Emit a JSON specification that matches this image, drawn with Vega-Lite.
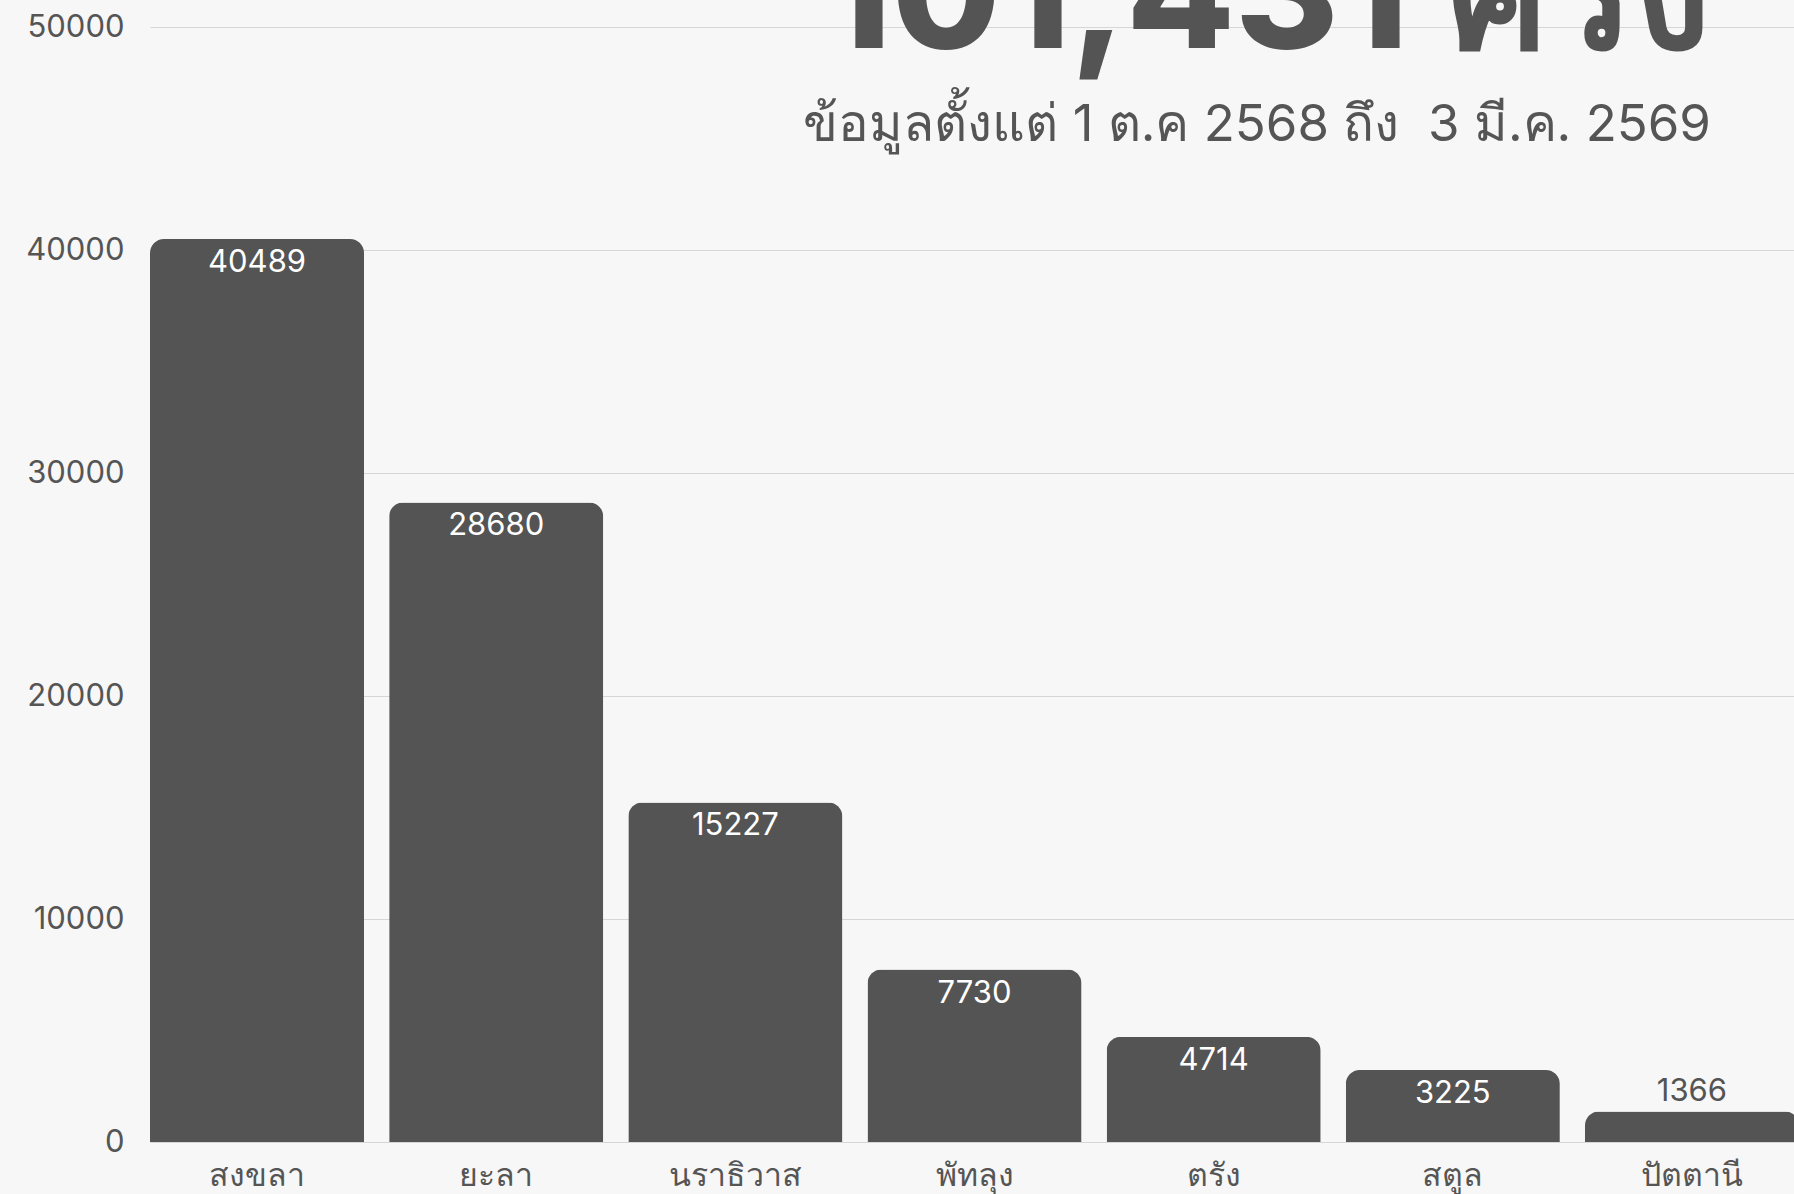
{
  "$schema": "https://vega.github.io/schema/vega-lite/v6.json",
  "autosize": {"type": "none"},
  "width": 1644,
  "height": 1115,
  "padding": {"left": 150, "top": 27, "right": 0, "bottom": 52},
  "background": "#f7f7f7",
  "title": {
    "text": "101,431 ครั้ง",
    "subtitle": "ข้อมูลตั้งแต่ 1 ต.ค 2568 ถึง\u00a0 3 มี.ค. 2569",
    "anchor": "end",
    "frame": "group",
    "orient": "top",
    "offset": 0,
    "dx": -83,
    "dy": 141,
    "font": "Inter",
    "fontSize": 158,
    "fontWeight": 800,
    "color": "#545454",
    "subtitleFont": "Inter",
    "subtitleFontSize": 51,
    "subtitleColor": "#555555",
    "subtitlePadding": 20
  },
  "config": {"view": {"stroke": null}},
  "data": {
    "values": [
      {"province": "สงขลา", "count": 40489},
      {"province": "ยะลา", "count": 28680},
      {"province": "นราธิวาส", "count": 15227},
      {"province": "พัทลุง", "count": 7730},
      {"province": "ตรัง", "count": 4714},
      {"province": "สตูล", "count": 3225},
      {"province": "ปัตตานี", "count": 1366}
    ]
  },
  "encoding": {
    "x": {
      "field": "province",
      "type": "nominal",
      "sort": null,
      "scale": {"range": [0, 1649], "paddingInner": 0.105, "paddingOuter": 0},
      "axis": {
        "title": null,
        "labelAngle": 0,
        "labelFontSize": 32,
        "labelColor": "#555555",
        "labelPadding": 18,
        "ticks": false,
        "domain": false,
        "grid": false
      }
    },
    "y": {
      "field": "count",
      "type": "quantitative",
      "scale": {"domain": [0, 50000]},
      "axis": {
        "title": null,
        "values": [0, 10000, 20000, 30000, 40000, 50000],
        "format": "d",
        "labelFont": "Inter",
        "labelFontSize": 31,
        "labelColor": "#555555",
        "labelPadding": 26,
        "ticks": false,
        "domain": false,
        "gridColor": "#d6d6d6",
        "gridWidth": 1
      }
    }
  },
  "layer": [
    {
      "mark": {"type": "bar", "color": "#545454", "cornerRadiusTopLeft": 14, "cornerRadiusTopRight": 14}
    },
    {
      "transform": [{"filter": "datum.count > 2000"}],
      "mark": {"type": "text", "color": "#ffffff", "baseline": "middle", "dy": 24, "font": "Inter", "fontSize": 31},
      "encoding": {"text": {"field": "count", "type": "quantitative", "format": "d"}}
    },
    {
      "transform": [{"filter": "datum.count <= 2000"}],
      "mark": {"type": "text", "color": "#545454", "baseline": "middle", "dy": -20, "font": "Inter", "fontSize": 31},
      "encoding": {"text": {"field": "count", "type": "quantitative", "format": "d"}}
    }
  ]
}
